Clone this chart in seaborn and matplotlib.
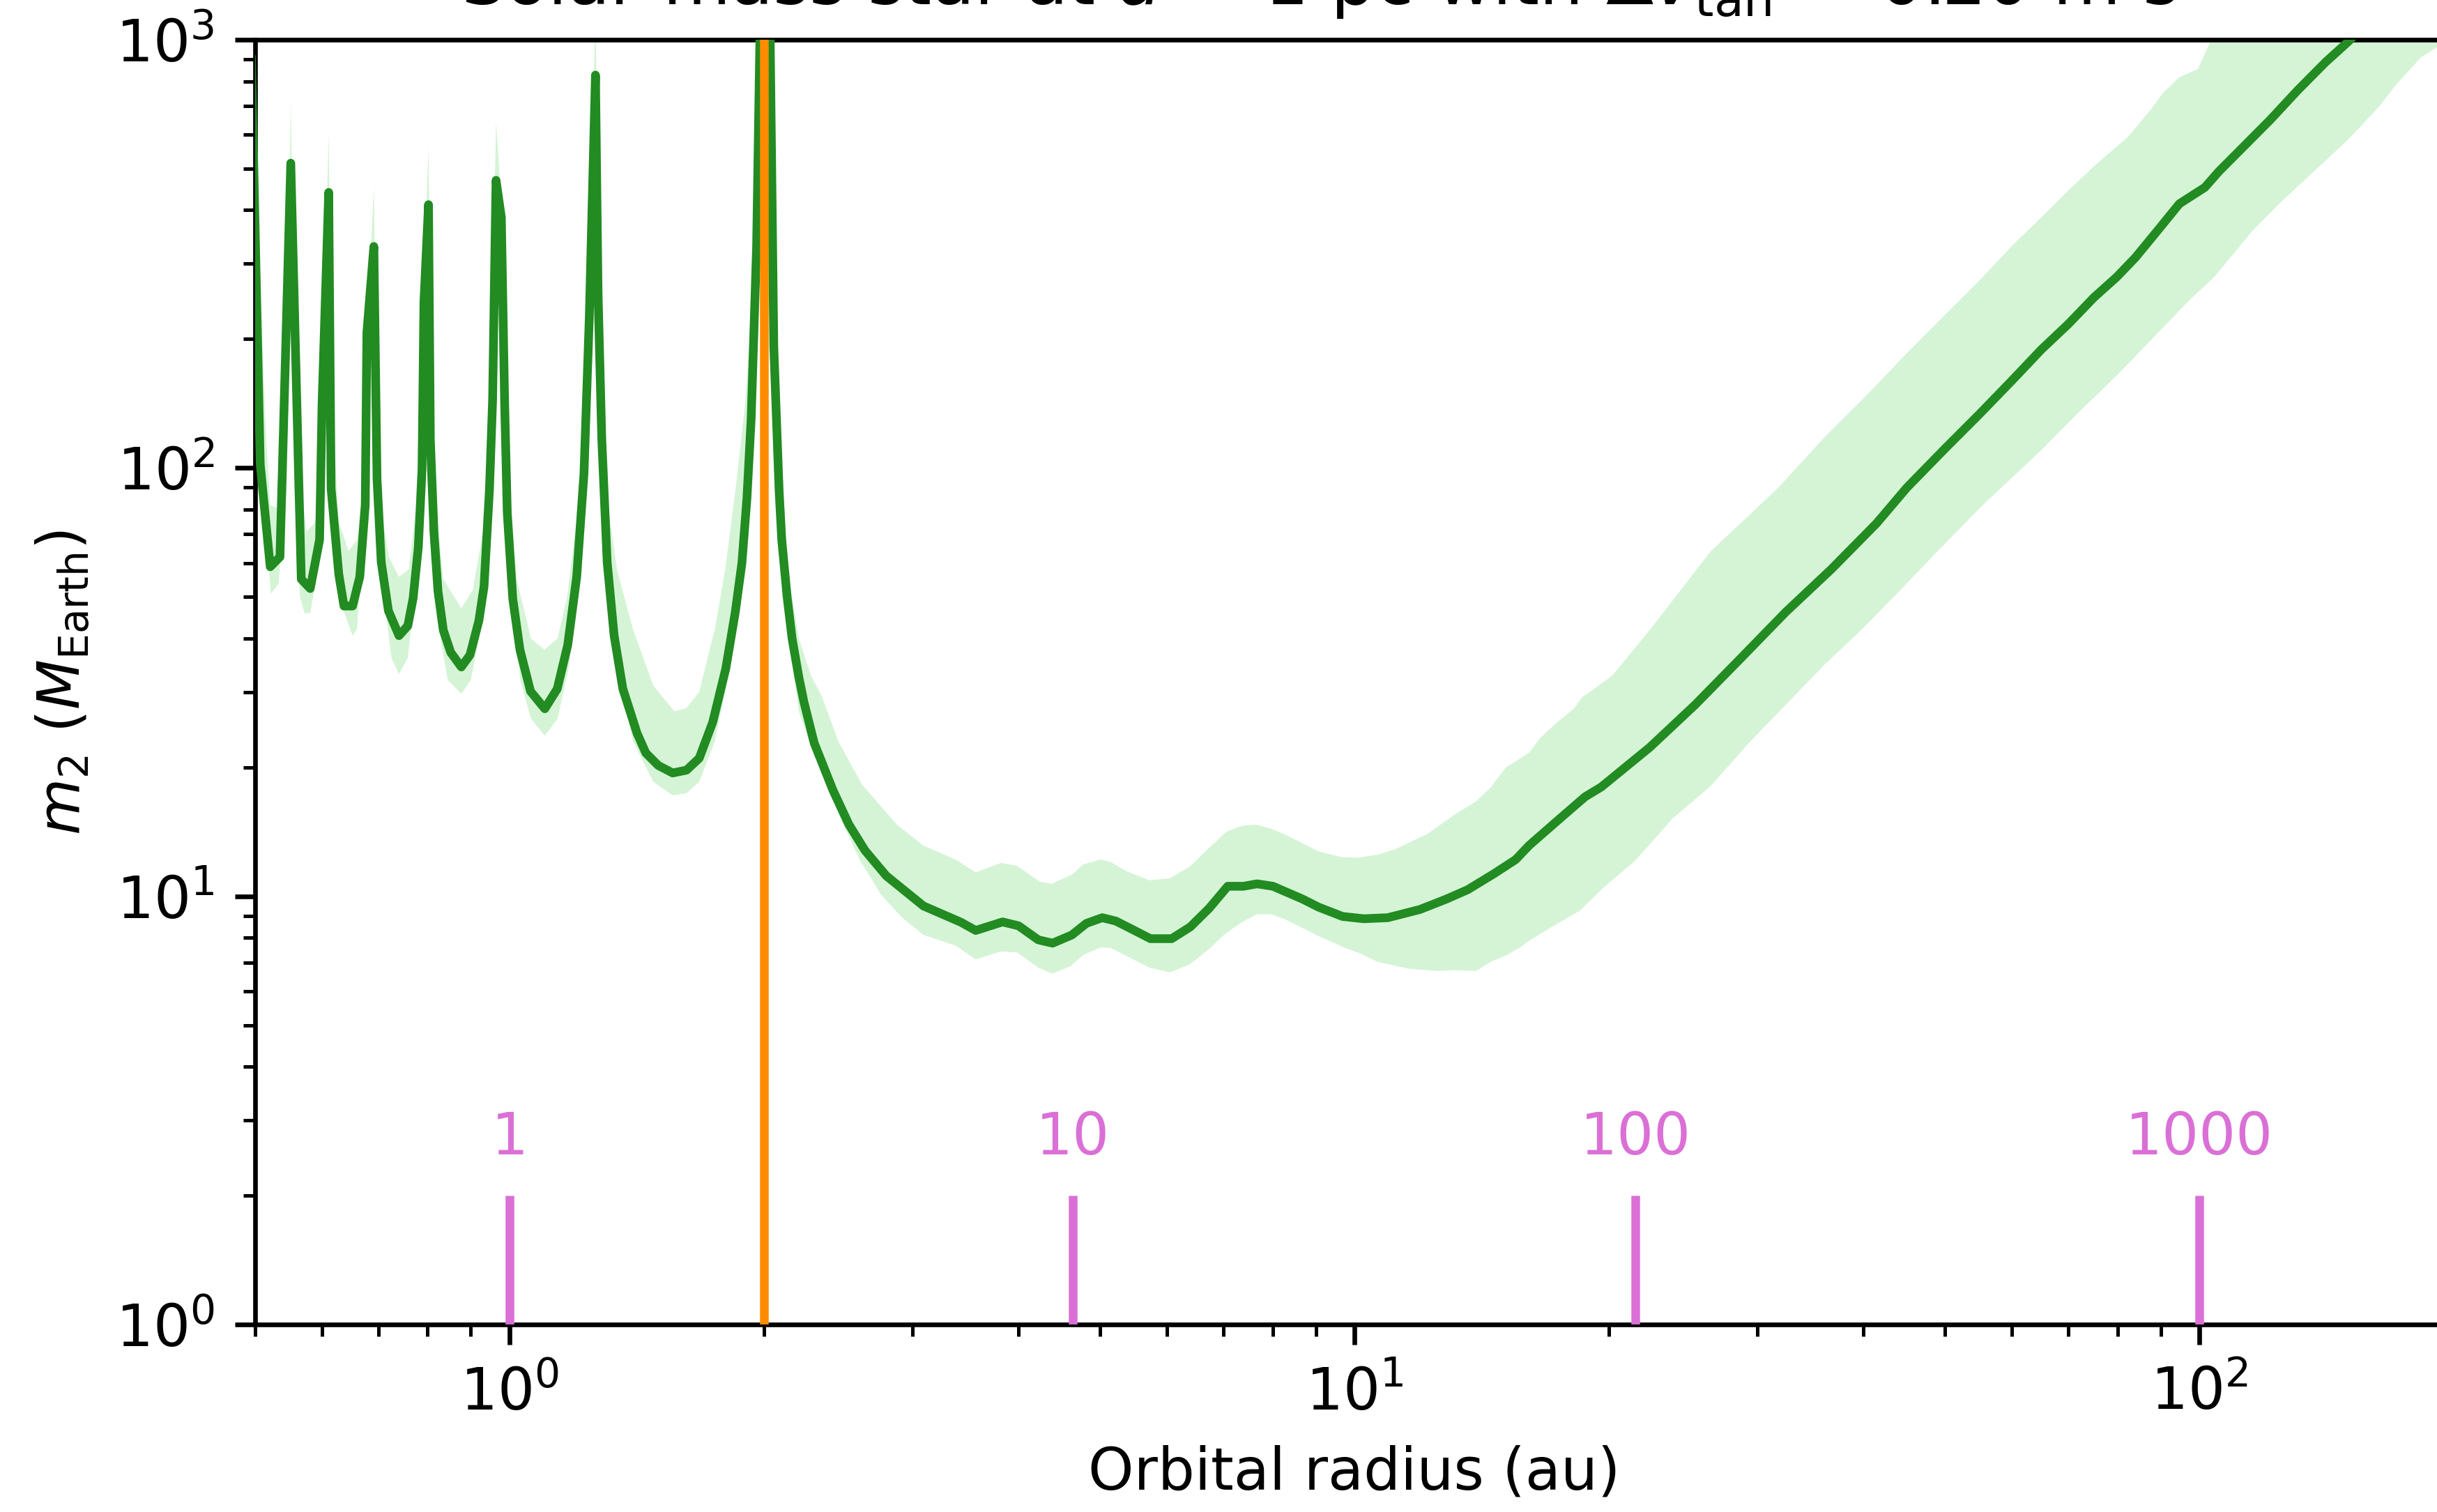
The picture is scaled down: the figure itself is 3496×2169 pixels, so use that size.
import numpy as np
import matplotlib
matplotlib.use("Agg")
import matplotlib.pyplot as plt
import seaborn as sns

# ---------------- data ----------------
# median detectable companion mass (Earth masses) vs orbital radius (au)
r_med = [0.495, 0.507, 0.521, 0.535, 0.551, 0.564, 0.567, 0.581, 0.596, 0.600,
         0.611, 0.615, 0.628, 0.637, 0.652, 0.665, 0.675, 0.678, 0.691, 0.697,
         0.705, 0.719, 0.740, 0.758, 0.769, 0.780, 0.788, 0.792, 0.802, 0.806,
         0.814, 0.823, 0.835, 0.852, 0.877, 0.898, 0.920, 0.933, 0.947, 0.955,
         0.964, 0.978, 0.987, 0.994, 1.009, 1.029, 1.059, 1.101, 1.139, 1.172,
         1.201, 1.225, 1.243, 1.264, 1.273, 1.286, 1.305, 1.330, 1.362, 1.416,
         1.450, 1.500, 1.560, 1.620, 1.677, 1.740, 1.803, 1.850, 1.884, 1.910,
         1.932, 1.961, 1.985, 2.030, 2.055, 2.085, 2.100, 2.131, 2.160, 2.200,
         2.230, 2.294, 2.414, 2.522, 2.634,
         2.792, 3.090, 3.420, 3.563, 3.833, 4.004, 4.225, 4.393, 4.630, 4.816,
         5.030, 5.220, 5.490, 5.735, 6.077, 6.394, 6.730, 7.080, 7.390, 7.670,
         8.010, 8.680, 9.070, 9.680, 10.26, 10.95, 11.95, 12.85, 13.62, 14.64,
         15.52, 16.09, 17.43, 18.75, 19.60, 22.37, 25.31, 28.64, 32.40, 36.67,
         41.50, 45.07, 50.0, 55.0, 60.0, 65.0, 70.0, 75.0, 79.8, 84.0,
         89.4, 94.7, 101.5, 105.5, 112.3, 121.2, 130.8, 141.1, 150.3, 160.0]
m_med = [900, 102, 58.8, 62, 515, 84, 55, 52.3, 68, 140,
         440, 89.6, 56.5, 47.6, 47.6, 55.7, 82, 207, 329, 94.4,
         60.3, 46.4, 40.6, 42.8, 49.6, 65.3, 99.4, 243, 412, 116.5,
         70.6, 51.5, 41.8, 37.1, 34.3, 36.6, 44.0, 52.9, 89.5, 143.8,
         469.6, 385, 140, 78.5, 49.5, 37.6, 30.1, 27.4, 30.5, 38.6,
         55.7, 96.8, 225, 827, 256, 116.5, 60.3, 40.6, 30.5, 24.0,
         21.6, 20.2, 19.4, 19.7, 21.0, 25.5, 34.0, 46.0, 60.0, 85.0,
         130, 330, 1500, 1500, 192, 88.5, 68, 50, 40, 32.5,
         28.5, 22.8, 17.7, 14.7, 12.8,
         11.16, 9.49, 8.70, 8.32, 8.71, 8.53, 7.91, 7.77, 8.12, 8.64,
         8.91, 8.75, 8.32, 7.96, 7.96, 8.48, 9.37, 10.55, 10.55, 10.69,
         10.55, 9.85, 9.43, 8.97, 8.86, 8.91, 9.31, 9.85, 10.36, 11.3,
         12.18, 13.13, 15.07, 17.07, 18.0, 22.28, 28.0, 35.9, 46.1, 58.0,
         74.3, 90.0, 111, 134, 160, 189, 217, 250, 279, 310,
         360, 414, 452, 493, 558, 649, 763, 887, 993, 1130]

# upper edge of the uncertainty band
r_up = [0.495, 0.515, 0.521, 0.535, 0.545, 0.551, 0.556, 0.564, 0.575, 0.590,
        0.600, 0.611, 0.616, 0.628, 0.645, 0.660, 0.675, 0.681, 0.691, 0.697,
        0.705, 0.720, 0.740, 0.760, 0.775, 0.790, 0.802, 0.807, 0.815, 0.835,
        0.877, 0.905, 0.935, 0.952, 0.964, 0.978, 0.988, 0.998, 1.020, 1.060,
        1.100, 1.140, 1.170, 1.200, 1.225, 1.245, 1.264, 1.275, 1.290, 1.310,
        1.340, 1.400, 1.480, 1.568, 1.620, 1.677, 1.750, 1.800, 1.850, 1.900,
        1.930, 1.960, 1.985, 2.030, 2.060, 2.090, 2.131, 2.200, 2.275, 2.344,
        2.450, 2.615, 2.874, 3.090, 3.373, 3.563, 3.815, 3.990, 4.240, 4.380,
        4.630, 4.780, 5.010, 5.150, 5.370, 5.720, 6.050, 6.390, 6.730, 7.060,
        7.360, 7.640, 7.950, 8.300, 9.070, 9.680, 10.10, 10.65, 11.19, 12.20,
        13.10, 13.93, 14.50, 15.10, 16.10, 16.57, 17.30, 18.20, 18.58, 20.18,
        22.37, 24.30, 26.38, 28.64, 31.76, 36.0, 40.4, 45.0, 50.0, 55.0,
        60.0, 65.0, 70.0, 74.9, 78.3, 82.4, 87.8, 90.6, 94.7, 99.6,
        102.8, 106.0, 130.0, 260.0]
m_up = [950, 120, 82, 80, 200, 716, 200, 100, 71, 75,
        160, 603, 150, 75, 64, 68, 100, 250, 452, 130,
        80, 62, 55.7, 58, 80, 250, 565, 150, 90, 55,
        47, 52, 75, 180, 644, 420, 170, 95, 55, 40,
        37.6, 40, 50, 75, 130, 300, 1200, 300, 140, 80,
        58, 42, 31, 27.0, 27.5, 30.0, 42, 58, 88, 140,
        220, 450, 1500, 1500, 300, 130, 59, 40, 32.7, 29.2,
        23.0, 18.2, 14.7, 13.13, 12.18, 11.37, 11.96, 11.77, 10.82, 10.69,
        11.23, 11.88, 12.18, 12.02, 11.45, 10.89, 11.02, 11.74, 12.97, 14.16,
        14.6, 14.7, 14.4, 13.9, 12.72, 12.33, 12.3, 12.5, 12.89, 13.98,
        15.45, 16.65, 17.95, 19.96, 21.66, 23.35, 25.3, 27.46, 29.1, 32.7,
        41.9, 51.7, 63.8, 74.3, 90.0, 118, 148, 185, 228, 275,
        330, 385, 445, 505, 545, 594, 691, 752, 818, 854,
        980, 1150, 1500, 1500]

# lower edge of the uncertainty band
r_lo = [0.495, 0.506, 0.515, 0.522, 0.533, 0.545, 0.551, 0.556, 0.565, 0.572,
        0.581, 0.595, 0.605, 0.611, 0.616, 0.628, 0.652, 0.660, 0.672, 0.680,
        0.691, 0.697, 0.710, 0.725, 0.740, 0.758, 0.772, 0.785, 0.802, 0.806,
        0.820, 0.845, 0.877, 0.900, 0.925, 0.948, 0.964, 0.978, 0.987, 1.000,
        1.030, 1.060, 1.101, 1.140, 1.175, 1.200, 1.225, 1.245, 1.264, 1.275,
        1.290, 1.310, 1.340, 1.400, 1.480, 1.560, 1.620, 1.677, 1.750, 1.800,
        1.850, 1.900, 1.930, 1.960, 1.985, 2.030, 2.060, 2.090, 2.131, 2.200,
        2.300, 2.344, 2.449, 2.596, 2.751, 2.916, 3.090, 3.373, 3.563, 3.815,
        3.990, 4.225, 4.393, 4.610, 4.780, 5.010, 5.150, 5.720, 6.050, 6.390,
        6.730, 7.030, 7.360, 7.670, 7.950, 8.250, 9.070, 9.680, 10.18, 10.65,
        11.60, 12.57, 13.13, 13.93, 14.50, 15.18, 15.76, 16.09, 17.30, 18.48,
        19.73, 21.47, 23.80, 26.38, 29.24, 32.40, 35.93, 39.83, 44.20, 48.95,
        55.37, 58.30, 65.0, 72.0, 80.0, 90.0, 97.0, 104.1, 115.3, 124.3,
        137.6, 150.3, 163.3, 170.7, 183.0, 192.3, 215.0, 260.0]
m_lo = [800, 300, 70, 50.9, 53.6, 90, 400, 90, 50, 45.8,
        45.8, 60, 200, 380, 85, 50, 40.6, 42, 70, 180,
        300, 90, 50, 36, 33.0, 36, 50, 110, 380, 100,
        45, 32, 29.7, 32, 42, 85, 440, 350, 120, 55,
        32, 26, 23.7, 26, 34, 48, 90, 210, 780, 230,
        100, 52, 34, 23, 18.5, 17.2, 17.4, 18.5, 23, 30,
        42, 75, 120, 280, 1400, 1400, 170, 80, 43, 27,
        21, 20.1, 15.64, 12.18, 10.1, 8.91, 8.12, 7.67, 7.12, 7.43,
        7.39, 6.81, 6.60, 6.86, 7.30, 7.60, 7.57, 6.81, 6.64, 6.94,
        7.53, 8.17, 8.70, 9.08, 9.08, 8.86, 8.07, 7.62, 7.34, 7.03,
        6.77, 6.69, 6.72, 6.69, 7.03, 7.30, 7.63, 7.87, 8.58, 9.25,
        10.49, 12.08, 15.19, 18.05, 22.7, 28.0, 34.6, 41.9, 51.7, 63.8,
        81.8, 90.0, 110, 135, 165, 210, 245, 279, 356, 414,
        499, 587, 699, 783, 910, 968, 1200, 1500]

# orbital periods (years) marked along the bottom, and the radius of each
period_labels = ["1", "10", "100", "1000"]
period_radius = [1.0, 4.64, 21.5, 100.0]

# orbital radius marked by the vertical orange line (au)
r_marker = 2.0

title = r"Solar-mass star at $d$ = 1 pc with $\Delta v_{\rm tan}$ = 0.20 m s$^{-1}$"

# ---------------- figure ----------------
W, H, DPI = 3496, 2169, 600
fig = plt.figure(figsize=(W / DPI, H / DPI), dpi=DPI)
plt.rcParams["font.family"] = ["DejaVu Sans"]
ax = fig.add_axes([366 / W, 1 - 1900 / H, (3520 - 366) / W, (1900 - 57) / H])
ax.set_xscale("log")
ax.set_yscale("log")

# uncertainty band
poly_x = np.concatenate([np.array(r_up), np.array(r_lo)[::-1]])
poly_y = np.concatenate([np.array(m_up), np.array(m_lo)[::-1]])
ax.fill(poly_x, poly_y, facecolor="#d5f4d6", edgecolor="none", lw=0, zorder=1)

# median curve
sns.lineplot(x=r_med, y=m_med, ax=ax, color="forestgreen", linewidth=1.5,
             estimator=None, sort=False, zorder=3)

# vertical marker
ax.axvline(r_marker, color="darkorange", linewidth=1.5, zorder=4)

# period markers
for lab, rad in zip(period_labels, period_radius):
    ax.plot([rad, rad], [1.0, 2.0], color="orchid", linewidth=1.5, zorder=4,
            solid_capstyle="butt")
    ax.text(rad, 2.5, lab, color="orchid", ha="center", va="baseline",
            fontsize=10, zorder=5)

ax.set_xlim(0.5, 200)
ax.set_ylim(1, 1000)
ax.set_xlabel("Orbital radius (au)", fontsize=10)
ax.set_ylabel(r"$m_2\ (M_{\rm Earth})$", fontsize=10)
ax.set_title(title, fontsize=12)
ax.tick_params(labelsize=10)

fig.savefig("out.png", dpi=DPI)
